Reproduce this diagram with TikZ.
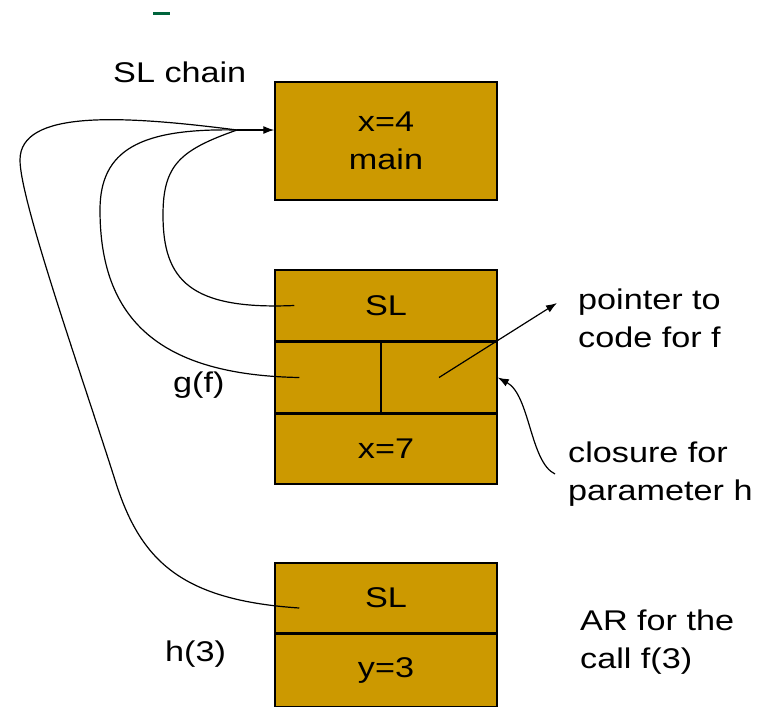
\documentclass[tikz,border=0pt]{standalone}
\usepackage{fontspec}
\setmainfont{Liberation Sans}[FakeStretch=1.2]
\usetikzlibrary{positioning,arrows.meta}
\definecolor{argold}{RGB}{204,153,0}
\definecolor{titlegreen}{RGB}{0,100,60}
\tikzset{
  cell/.style={draw, fill=argold, line width=1.5pt, inner sep=0pt, align=center},
  wide/.style={minimum width=222pt},
  lbl/.style={inner sep=0pt, align=left},
  link/.style={line width=1.2pt},
  arr/.style={line width=1.2pt, -{Latex[length=11pt,width=8pt]}}
}
\begin{document}
\begin{tikzpicture}[x=1pt,y=-1pt,font=\fontsize{28.5}{38}\selectfont]
\useasboundingbox (0,0) rectangle (762,724);
\draw[titlegreen, line width=3pt] (153,13) -- (170,13);
\node[cell, wide, minimum height=118pt] (main) at (386,141) {x=4\\main};
\node[cell, wide, minimum height=71pt] (gsl) at (386,305.5) {SL};
\node[cell, minimum width=106pt, minimum height=70pt, anchor=north west] (gleft) at (gsl.south west) {};
\node[cell, minimum width=116pt, minimum height=70pt, anchor=north east] (gright) at (gsl.south east) {};
\node[cell, wide, minimum height=70pt, anchor=north] (gx) at (gsl.south |- gleft.south) {x=7};
\node[cell, wide, minimum height=70pt] (hsl) at (386,598) {SL};
\node[cell, wide, minimum height=72pt, below=0pt of hsl] (hy) {y=3};
\node[lbl, anchor=base west] (chain) at (113,82) {SL chain};
\node[lbl, anchor=base west] (gf) at (173,392) {g(f)};
\node[lbl, anchor=base west] (hthree) at (165,661) {h(3)};
\node[lbl, anchor=west] (ptr) at (578,318) {pointer to\\code for f};
\node[lbl, anchor=west] (clos) at (568,474) {closure for\\parameter h};
\node[lbl, anchor=west] (arcall) at (580,642) {AR for the\\call f(3)};
\coordinate (hub) at (237,130);
\coordinate (ptrtip) at (557,303);
\draw[arr] (hub) -- (hub -| main.west);
\draw[link] ([xshift=20pt]gsl.west) .. controls (190,310) and (163,280) .. (163,215)
  .. controls (163,165) and (180,150) .. (hub);
\draw[link] ([xshift=25pt]gleft.west) .. controls (160,375) and (100,320) .. (100,210)
  .. controls (100,150) and (140,128) .. (hub);
\draw[link] ([xshift=25pt,yshift=-10pt]hsl.west) .. controls (180,600) and (140,560) .. (115,480)
  .. controls (80,370) and (20,200) .. (20,160)
  .. controls (20,110) and (120,115) .. (hub);
\draw[arr] (gright.center) -- (ptrtip);
\draw[arr] ([xshift=-13pt]clos.west) .. controls (530,462) and (530,395) .. (gright.east);
\end{tikzpicture}
\end{document}
